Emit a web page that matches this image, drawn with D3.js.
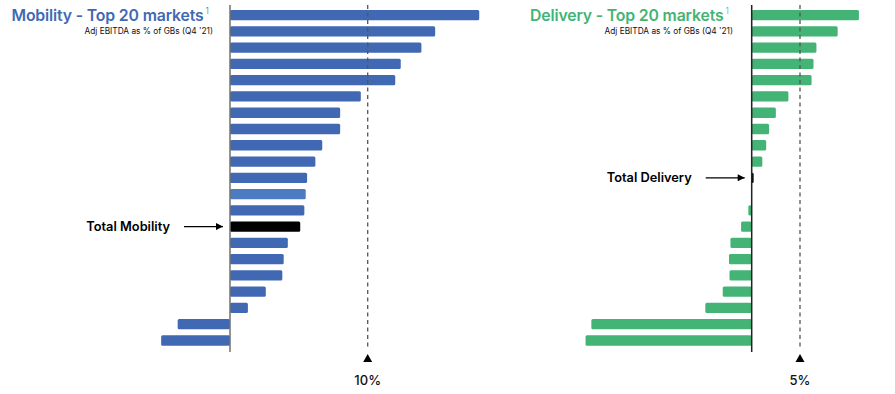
<!DOCTYPE html>
<html>
<head>
<meta charset="utf-8">
<script src="https://cdn.jsdelivr.net/npm/d3@7"></script>
<style>
  html, body { margin: 0; padding: 0; background: #fff; }
  svg { display: block; font-family: Inter, "Open Sans", sans-serif; }
</style>
</head>
<body>
<svg id="chart" width="895" height="394"></svg>
<script>
// markets are unnamed in the source; row index = rank
const mobilityMarkets = d3.range(21).map(i => i === 13 ? "Total Mobility" : "Market " + (i < 13 ? i + 1 : i));
const mobilityValues = [18.1, 14.9, 13.9, 12.4, 12.0, 9.5, 8.0, 8.0, 6.7, 6.2, 5.6, 5.5, 5.4, 5.1, 4.2, 3.9, 3.8, 2.6, 1.3, -3.8, -5.0];
const deliveryMarkets = d3.range(21).map(i => i === 10 ? "Total Delivery" : "Market " + (i < 10 ? i + 1 : i));
const deliveryValues = [11.1, 8.9, 6.7, 6.4, 6.2, 3.8, 2.5, 1.8, 1.5, 1.1, 0.2, 0, -0.35, -1.1, -2.2, -2.35, -2.3, -3.0, -4.8, -16.6, -17.2];
const mobilityRef = 10, deliveryRef = 5;
const refLabels = ["10%", "5%"];

const BLUE = "#4169b3", GREEN = "#43b475";

const svg = d3.select("#chart");

const y = d3.scaleBand().domain(d3.range(21)).range([4, 351.6]).padding(0.367);

const panels = [
  { title: "Mobility - Top 20 markets", color: BLUE, cats: mobilityMarkets, vals: mobilityValues,
    ref: mobilityRef, refLabel: refLabels[0], totalLabel: "Total Mobility",
    x: d3.scaleLinear().domain([0, 10]).range([230, 367.7]), titleRight: 213, axisColor: "#707070" },
  { title: "Delivery - Top 20 markets", color: GREEN, cats: deliveryMarkets, vals: deliveryValues,
    ref: deliveryRef, refLabel: refLabels[1], totalLabel: "Total Delivery",
    x: d3.scaleLinear().domain([0, 5]).range([751.7, 800]), titleRight: 733, axisColor: "#222" }
];

svg.append("defs").append("marker")
  .attr("id", "arrow").attr("viewBox", "0 0 10 10").attr("refX", 10).attr("refY", 5)
  .attr("markerWidth", 9).attr("markerHeight", 7).attr("markerUnits", "userSpaceOnUse")
  .attr("orient", "auto")
  .append("path").attr("d", "M0,0L10,5L0,10Z").attr("fill", "#000");

panels.forEach(p => {
  const g = svg.append("g");
  const x = p.x;
  const data = p.cats.map((c, i) => ({ cat: c, i, v: p.vals[i] }));
  const totalRow = data.find(d => d.cat.startsWith("Total"));

  // title
  g.append("text").attr("x", p.titleRight - 9.5).attr("y", 21)
    .attr("text-anchor", "end").attr("fill", p.color)
    .attr("font-size", 15.8).attr("font-weight", 600).attr("letter-spacing", -0.15)
    .text(p.title);
  g.append("text").attr("x", p.titleRight - 7.5).attr("y", 13.5).attr("text-anchor", "start")
    .attr("fill", p.color).attr("font-size", 8.5).attr("font-weight", 300).text("1");
  g.append("text").attr("x", p.titleRight).attr("y", 34).attr("text-anchor", "end")
    .attr("fill", "#111").attr("font-size", 8.3).text("Adj EBITDA as % of GBs (Q4 '21)");

  // bars
  g.selectAll("rect.bar").data(data.filter(d => d.v !== 0)).join("rect")
    .attr("class", "bar")
    .attr("x", d => x(Math.min(0, d.v)))
    .attr("y", d => y(d.i))
    .attr("width", d => Math.max(1.5, Math.abs(x(d.v) - x(0))))
    .attr("height", y.bandwidth())
    .attr("rx", 1.5)
    .attr("fill", d => d === totalRow ? "#000" : (p.color === BLUE && d.i === 11 ? "#4d7bc2" : p.color));

  // reference line
  g.append("line").attr("x1", x(p.ref)).attr("x2", x(p.ref)).attr("y1", 5).attr("y2", 347)
    .attr("stroke", "#555").attr("stroke-width", 1.3).attr("stroke-dasharray", "4,3.5");
  const rx = x(p.ref);
  g.append("path").attr("d", `M${rx},354L${rx + 4.5},362L${rx - 4.5},362Z`).attr("fill", "#000");
  g.append("text").attr("x", rx).attr("y", 384.5).attr("text-anchor", "middle")
    .attr("font-size", 13).attr("font-weight", 500).attr("fill", "#111").text(p.refLabel);

  // zero axis
  g.append("line").attr("x1", x(0)).attr("x2", x(0)).attr("y1", 5).attr("y2", 352)
    .attr("stroke", p.axisColor).attr("stroke-width", 1.5);

  // total label + arrow
  const ty = y(totalRow.i) + y.bandwidth() / 2;
  g.append("text").attr("x", x(0) - 60).attr("y", ty + 4.5).attr("text-anchor", "end")
    .attr("font-size", 12.8).attr("font-weight", 600).attr("fill", "#000").text(p.totalLabel);
  g.append("line").attr("x1", x(0) - 46).attr("x2", x(0) - 7).attr("y1", ty).attr("y2", ty)
    .attr("stroke", "#000").attr("stroke-width", 1.2).attr("marker-end", "url(#arrow)");
});
</script>
</body>
</html>
